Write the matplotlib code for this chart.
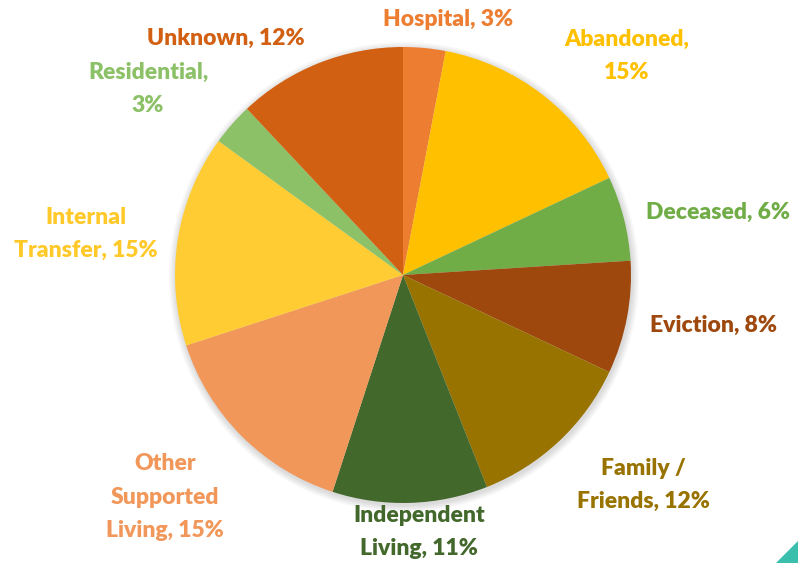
import matplotlib
matplotlib.use("Agg")
import matplotlib.pyplot as plt
from matplotlib.patches import Polygon, Circle

plt.rcParams['font.family'] = ['Lato', 'DejaVu Sans']

labels = ["Hospital", "Abandoned", "Deceased", "Eviction", "Family /\nFriends",
          "Independent\nLiving", "Other\nSupported\nLiving", "Internal\nTransfer",
          "Residential", "Unknown"]
values = [3, 15, 6, 8, 12, 11, 15, 15, 3, 12]
colors = ["#ED7D31", "#FFC000", "#70AD47", "#9E480E", "#997300",
          "#43682B", "#F1975A", "#FFCD33", "#8CC168", "#D26012"]
label_text = ["Hospital, 3%", "Abandoned,\n15%", "Deceased, 6%", "Eviction, 8%",
              "Family /\nFriends, 12%", "Independent\nLiving, 11%",
              "Other\nSupported\nLiving, 15%", "Internal\nTransfer, 15%",
              "Residential,\n3%", "Unknown, 12%"]
# label anchor points in pixels (x, y from top)
label_pos = [(448, 20), (627, 56), (718, 212), (713, 325), (643, 485),
             (419, 532), (165, 497), (86, 234), (148, 89), (226, 38)]

W, H = 798, 563
fig = plt.figure(figsize=(W / 100, H / 100), dpi=100)
ax = fig.add_axes([0, 0, 1, 1])

cx, cy, r = 403, H - 275, 228

# soft shadow
for i in range(6):
    ax.add_patch(Circle((cx + 1, cy - 2), r + 1 + i * 1.2, color='#000000',
                        alpha=0.025, lw=0, zorder=0))

ax.pie(values, colors=colors, startangle=90, counterclock=False,
       center=(cx, cy), radius=r, frame=True,
       wedgeprops=dict(linewidth=0))
ax.set_xlim(0, W)
ax.set_ylim(0, H)
ax.axis('off')

for txt, (x, y), c in zip(label_text, label_pos, colors):
    tc = "#FFC929" if c == "#FFCD33" else c
    ax.text(x, H - y, txt, color=tc, fontsize=16.5, fontweight='heavy',
            ha='center', va='center', linespacing=1.75)

ax.add_patch(Polygon([(776, 0), (W, 0), (W, 22)], closed=True,
                     color='#3BBFAD', lw=0))

fig.savefig("out.png", dpi=100)
